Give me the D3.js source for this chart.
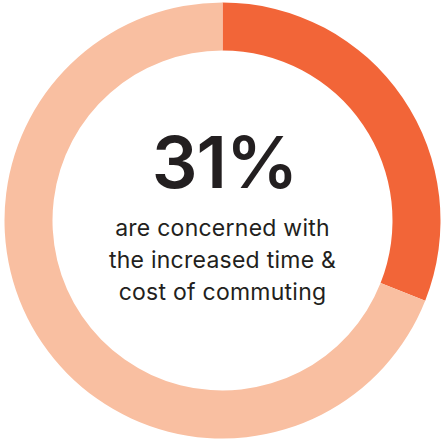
<!DOCTYPE html>
<html>
<head>
<meta charset="utf-8">
<script src="https://cdn.jsdelivr.net/npm/d3@7"></script>
<style>
  html, body { margin: 0; padding: 0; background: #ffffff; }
  svg { display: block; }
</style>
</head>
<body>
<svg id="chart" width="445" height="441"></svg>
<script>
// Share of respondents concerned vs. the rest
const categories = ["Concerned", "Other"];
const values = [31, 69];
const colors = ["#f26538", "#f9bfa1"];
const headline = "31%";
const captionLines = ["are concerned with", "the increased time &", "cost of commuting"];

const width = 445, height = 441;
const cx = 222.5, cy = 220.5;
const outerR = 218, innerR = 170;

const svg = d3.select("#chart");
const g = svg.append("g").attr("transform", `translate(${cx},${cy})`);

const pie = d3.pie().sort(null).value(d => d.value);
const arc = d3.arc().innerRadius(innerR).outerRadius(outerR);

const data = categories.map((c, i) => ({ category: c, value: values[i] }));

g.selectAll("path.slice")
  .data(pie(data))
  .join("path")
  .attr("class", "slice")
  .attr("d", arc)
  .attr("fill", (d, i) => colors[i]);

// Headline figure
g.append("text")
  .attr("x", 2)
  .attr("y", 188 - cy)
  .attr("text-anchor", "middle")
  .attr("font-family", "Inter, sans-serif")
  .attr("font-weight", 600)
  .attr("font-size", 72)
  .attr("letter-spacing", -1)
  .attr("fill", "#231f20")
  .text(headline);

// Caption beneath the figure
const baselines = [236, 268, 300];
g.selectAll("text.caption")
  .data(captionLines)
  .join("text")
  .attr("class", "caption")
  .attr("x", 0)
  .attr("y", (d, i) => baselines[i] - cy)
  .attr("text-anchor", "middle")
  .attr("font-family", "Inter, sans-serif")
  .attr("font-weight", 400)
  .attr("font-size", 23)
  .attr("letter-spacing", 0.25)
  .attr("fill", "#231f20")
  .text(d => d);
</script>
</body>
</html>
